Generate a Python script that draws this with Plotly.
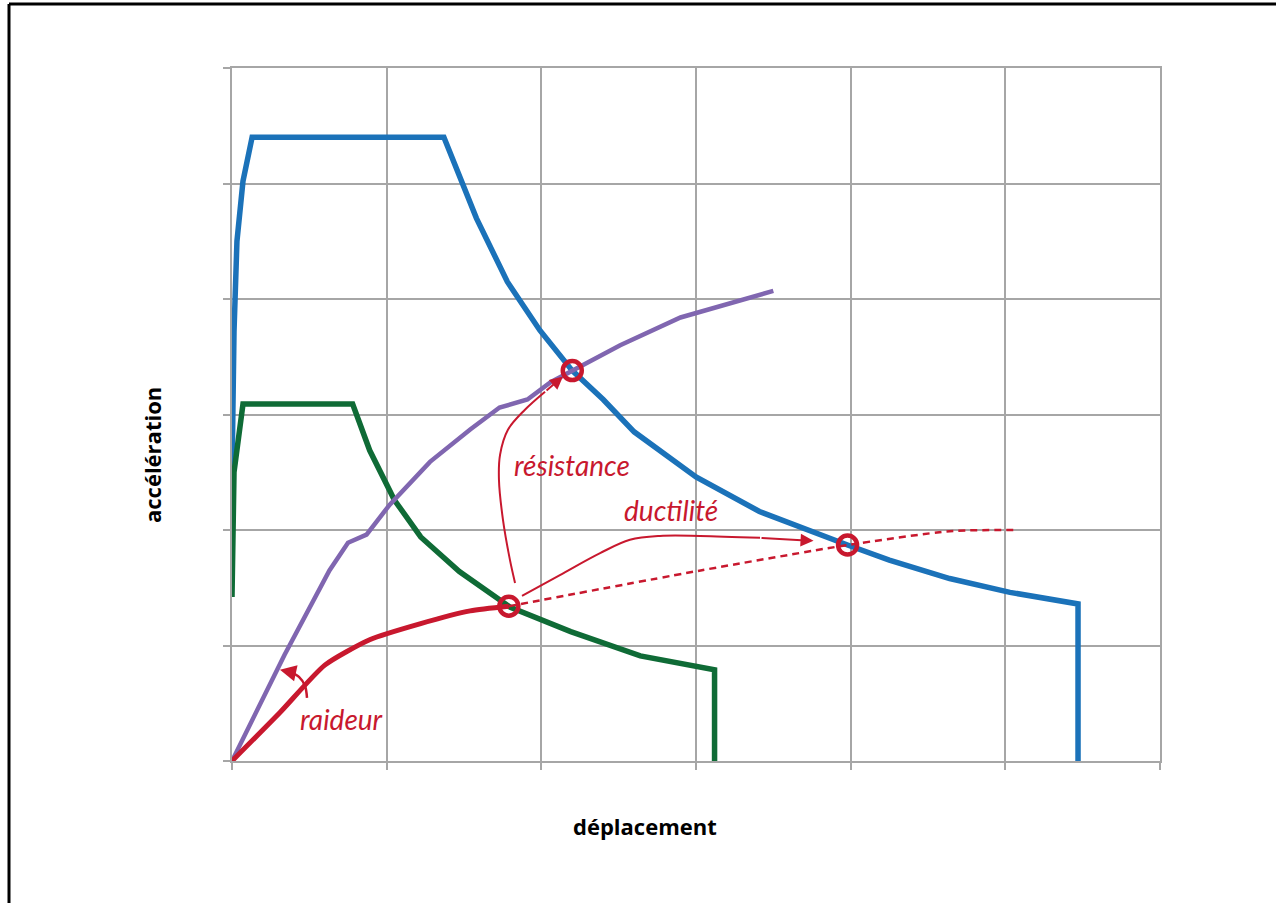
import plotly.graph_objects as go

# ---- data (displacement, acceleration) ----
blue_x = [0.0, 0.013, 0.032, 0.071, 0.13, 1.37, 1.58, 1.78, 1.99, 2.20, 2.40, 2.60, 3.00, 3.41, 3.98, 4.25, 4.64, 5.03, 5.47, 5.47]
blue_y = [2.48, 3.72, 4.50, 5.02, 5.40, 5.40, 4.70, 4.15, 3.73, 3.38, 3.13, 2.85, 2.46, 2.16, 1.87, 1.74, 1.58, 1.46, 1.36, 0.0]

green_x = [0.0, 0.013, 0.071, 0.78, 0.89, 1.05, 1.22, 1.47, 1.80, 2.19, 2.64, 3.12, 3.12]
green_y = [1.42, 2.50, 3.09, 3.09, 2.69, 2.26, 1.94, 1.64, 1.33, 1.12, 0.91, 0.79, 0.0]

purple_x = [0.0, 0.34, 0.63, 0.75, 0.87, 1.02, 1.28, 1.54, 1.73, 1.91, 2.06, 2.20, 2.51, 2.90, 3.50]
purple_y = [0.0, 0.92, 1.65, 1.89, 1.96, 2.22, 2.59, 2.87, 3.06, 3.13, 3.28, 3.38, 3.60, 3.84, 4.07]

red_x = [0.0, 0.31, 0.60, 0.89, 1.22, 1.54, 1.79]
red_y = [0.0, 0.42, 0.83, 1.05, 1.19, 1.30, 1.34]

red_dash_x = [1.79, 3.03, 3.98, 4.64, 5.08]
red_dash_y = [1.34, 1.65, 1.87, 1.99, 2.00]

points_x = [1.79, 2.20, 3.98]
points_y = [1.34, 3.38, 1.87]

# annotation arrow paths
res_arrow_x = [1.830, 1.797, 1.752, 1.726, 1.733, 1.784, 1.894, 2.024, 2.140]
res_arrow_y = [1.542, 1.741, 2.088, 2.435, 2.651, 2.868, 3.041, 3.197, 3.330]
duc_arrow_x = [1.875, 2.12, 2.38, 2.573, 2.767, 3.026, 3.414, 3.76]
duc_arrow_y = [1.43, 1.61, 1.80, 1.915, 1.949, 1.949, 1.932, 1.906]
rai_arrow_x = [0.485, 0.472, 0.433, 0.375, 0.31]
rai_arrow_y = [0.546, 0.650, 0.728, 0.771, 0.790]

labels = {"résistance": (2.20, 2.56), "ductilité": (2.84, 2.17), "raideur": (0.71, 0.36)}

BLUE = "#1b72b9"
GREEN = "#0f6b36"
PURPLE = "#8066b0"
RED = "#c8182e"
GRID = "#a6a6a6"

# plot area placed at page px x 232..1160, y 68..761 (body margin removed via post_script)
L, R, T, B = 232, 116, 68, 142
PW, PH = 928, 693

fig = go.Figure()
fig.add_trace(go.Scatter(x=blue_x, y=blue_y, mode="lines", line=dict(color=BLUE, width=5.5)))
fig.add_trace(go.Scatter(x=green_x, y=green_y, mode="lines", line=dict(color=GREEN, width=5.5)))
fig.add_trace(go.Scatter(x=purple_x, y=purple_y, mode="lines", line=dict(color=PURPLE, width=4.5)))
fig.add_trace(go.Scatter(x=red_x, y=red_y, mode="lines", line=dict(color=RED, width=5, shape="spline", smoothing=0.6)))
fig.add_trace(go.Scatter(x=red_dash_x, y=red_dash_y, mode="lines",
                         line=dict(color=RED, width=2.5, dash="7px,5px", shape="spline", smoothing=0.6)))

for ax_, ay_, w in [(res_arrow_x, res_arrow_y, 2), (duc_arrow_x, duc_arrow_y, 2), (rai_arrow_x, rai_arrow_y, 2.5)]:
    fig.add_trace(go.Scatter(x=ax_[:-1], y=ay_[:-1], mode="lines", line=dict(color=RED, width=w, shape="spline")))
    fig.add_annotation(x=ax_[-1], y=ay_[-1], ax=ax_[-2], ay=ay_[-2], xref="x", yref="y", axref="x", ayref="y",
                       text="", showarrow=True, arrowhead=2, arrowsize=1.3, arrowwidth=w, arrowcolor=RED)

fig.add_trace(go.Scatter(x=points_x, y=points_y, mode="markers",
                         marker=dict(symbol="circle-open", size=19, color=RED, line=dict(width=4.5, color=RED))))

for txt, (tx, ty) in labels.items():
    fig.add_annotation(x=tx, y=ty, xref="x", yref="y", text="<i>%s</i>" % txt, showarrow=False,
                       font=dict(family="Lato", size=28, color=RED))

fig.add_annotation(x=(645 - 232) / PW, y=(761 - 826) / PH, xref="paper", yref="paper",
                   xanchor="center", yanchor="middle",
                   text="<b>déplacement</b>", showarrow=False, font=dict(family="Open Sans", size=22, color="black"))
fig.add_annotation(x=(152 - 232) / PW, y=(761 - 455) / PH, xref="paper", yref="paper",
                   xanchor="center", yanchor="middle",
                   text="<b>accélération</b>", textangle=-90, showarrow=False,
                   font=dict(family="Open Sans", size=22, color="black"))

# outer frame (left and top edges)
fx = (9 - 232) / PW
fy = (761 - 4) / PH
fig.add_shape(type="line", xref="paper", yref="paper", x0=fx, x1=fx, y0=-0.5, y1=fy, line=dict(color="black", width=3))
fig.add_shape(type="line", xref="paper", yref="paper", x0=fx, x1=1.2, y0=fy, y1=fy, line=dict(color="black", width=3))

axis_common = dict(range=[0, 6], dtick=1, tick0=0, showgrid=True, gridcolor=GRID, gridwidth=2,
                   showline=True, linecolor=GRID, linewidth=2, mirror=True, ticks="outside",
                   ticklen=7, tickwidth=2, tickcolor=GRID, showticklabels=False, zeroline=False, fixedrange=True)
fig.update_xaxes(**axis_common)
fig.update_yaxes(**axis_common)

fig.update_layout(width=1276, height=903, showlegend=False, paper_bgcolor="white", plot_bgcolor="white",
                  margin=dict(l=L, r=R, t=T, b=B), font=dict(family="Open Sans"), hovermode=False)

fig.write_html("out.html", config={"displayModeBar": False},
               post_script="document.body.style.margin='0';document.body.style.overflow='hidden';")
